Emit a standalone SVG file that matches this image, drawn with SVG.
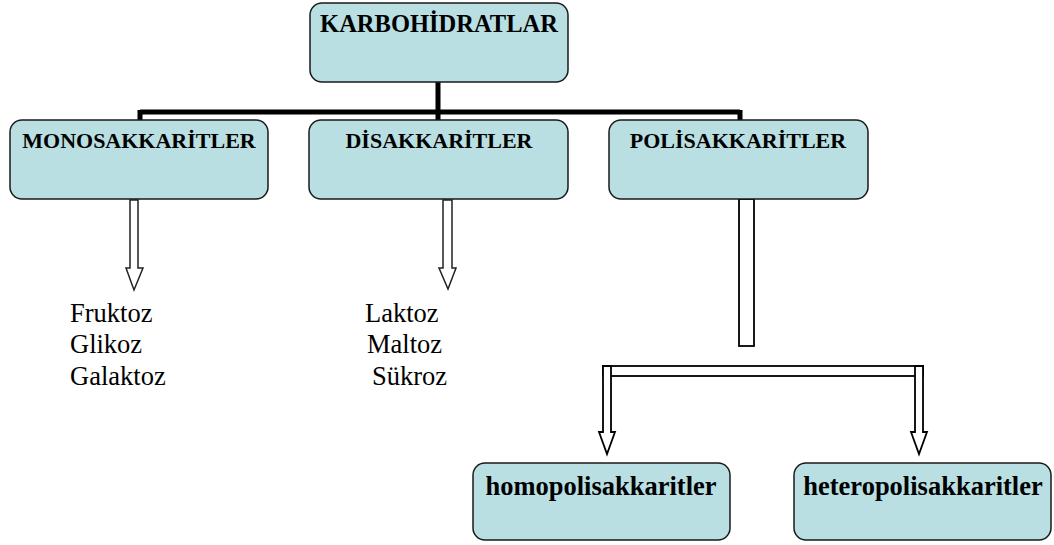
<svg xmlns="http://www.w3.org/2000/svg" width="1054" height="545" viewBox="0 0 1054 545">
<style>
.box{fill:#b9dfe2;stroke:#1a1a1a;stroke-width:1.5}
.hd{font-family:"Liberation Serif",serif;font-weight:bold;fill:#000;text-anchor:middle}
.it{font-family:"Liberation Serif",serif;font-size:26.5px;fill:#000}
.blk{fill:none;stroke:#000;stroke-width:5}
.arr{fill:#fff;stroke:#222;stroke-width:1.5}
.arr2{fill:#fff;stroke:#000;stroke-width:1.8}
</style>
<rect width="1054" height="545" fill="#fff"/>
<g id="connectors">
<path class="blk" d="M438,82 V112 M140,112 H740 M140,110 V120 M438,112 V120 M740,110 V120"/>
<path class="arr" d="M130,200 H138 V268 H143 L134,290 L126,268 H130 Z"/>
<path class="arr" d="M443,200 H452 V268 H456 L448,289 L439,268 H443 Z"/>
<rect class="arr2" x="739" y="199" width="15" height="147"/>
<rect class="arr2" x="603" y="366" width="320" height="10"/>
<path class="arr2" d="M603,366 H611 V432 H615 L607,454 L599,432 H603 Z"/>
<path class="arr2" d="M915,366 H923 V432 H927 L919,454 L911,432 H915 Z"/>
</g>
<g id="karbohidratlar">
<rect class="box" x="310" y="3" width="258" height="79" rx="12"/>
<text class="hd" x="439" y="32" font-size="24.5">KARBOHİDRATLAR</text>
</g>
<g id="monosakkaritler">
<rect class="box" x="10" y="120" width="258" height="79" rx="12"/>
<text class="hd" x="139" y="148" font-size="22">MONOSAKKARİTLER</text>
</g>
<g id="disakkaritler">
<rect class="box" x="309" y="120" width="259" height="79" rx="12"/>
<text class="hd" x="439" y="148" font-size="22">DİSAKKARİTLER</text>
</g>
<g id="polisakkaritler">
<rect class="box" x="609" y="120" width="259" height="79" rx="12"/>
<text class="hd" x="738" y="148" font-size="22">POLİSAKKARİTLER</text>
</g>
<g id="mono-list">
<text class="it" x="70" y="322">Fruktoz</text>
<text class="it" x="70" y="353">Glikoz</text>
<text class="it" x="70" y="385">Galaktoz</text>
</g>
<g id="di-list">
<text class="it" x="365" y="322">Laktoz</text>
<text class="it" x="367" y="353">Maltoz</text>
<text class="it" x="372" y="385">Sükroz</text>
</g>
<g id="homopolisakkaritler">
<rect class="box" x="473" y="463" width="257" height="77" rx="12"/>
<text class="hd" x="601" y="495" font-size="26.5">homopolisakkaritler</text>
</g>
<g id="heteropolisakkaritler">
<rect class="box" x="794" y="463" width="257" height="77" rx="12"/>
<text class="hd" x="923" y="495" font-size="26.5">heteropolisakkaritler</text>
</g>
</svg>
